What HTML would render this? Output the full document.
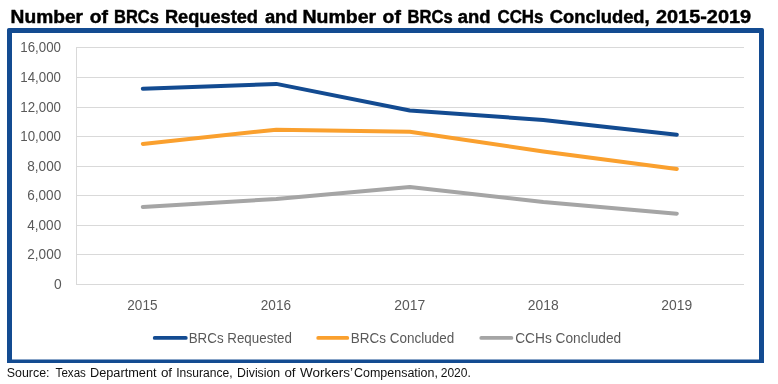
<!DOCTYPE html>
<html><head><meta charset="utf-8"><style>
html,body{margin:0;padding:0;background:#fff;width:778px;height:384px;overflow:hidden}
svg{display:block;will-change:transform}
text{font-family:"Liberation Sans",sans-serif}
.ax{font-size:13.8px;fill:#595959}
.lg{font-size:14.4px;fill:#595959}
.tt{font-size:18px;font-weight:bold;fill:#000;stroke:#000;stroke-width:0.45px}
.src{font-size:12px;fill:#111}
</style></head><body>
<svg width="778" height="384" viewBox="0 0 778 384">
<rect x="76" y="47" width="668" height="1" fill="#D9D9D9"/>
<rect x="76" y="77" width="668" height="1" fill="#D9D9D9"/>
<rect x="76" y="107" width="668" height="1" fill="#D9D9D9"/>
<rect x="76" y="136" width="668" height="1" fill="#D9D9D9"/>
<rect x="76" y="166" width="668" height="1" fill="#D9D9D9"/>
<rect x="76" y="195" width="668" height="1" fill="#D9D9D9"/>
<rect x="76" y="225" width="668" height="1" fill="#D9D9D9"/>
<rect x="76" y="254" width="668" height="1" fill="#D9D9D9"/>
<rect x="76" y="284" width="668" height="1" fill="#D9D9D9"/>
<rect x="76" y="47" width="1" height="238" fill="#D9D9D9"/>
<polyline points="142.8,206.9 276.3,199.0 409.8,187.0 543.3,202.1 676.8,213.7" fill="none" stroke="#A5A5A5" stroke-width="4" stroke-linecap="round" stroke-linejoin="round"/>
<polyline points="142.8,143.9 276.3,129.7 409.8,131.8 543.3,151.4 676.8,169.0" fill="none" stroke="#FAA02E" stroke-width="4" stroke-linecap="round" stroke-linejoin="round"/>
<polyline points="142.8,88.8 276.3,83.9 409.8,110.5 543.3,119.9 676.8,134.7" fill="none" stroke="#134B91" stroke-width="4" stroke-linecap="round" stroke-linejoin="round"/>
<line x1="154.7" y1="337.9" x2="185.8" y2="337.9" stroke="#134B91" stroke-width="3.8" stroke-linecap="round"/>
<line x1="318.2" y1="337.9" x2="347.3" y2="337.9" stroke="#FAA02E" stroke-width="3.8" stroke-linecap="round"/>
<line x1="481.3" y1="337.9" x2="511.4" y2="337.9" stroke="#A5A5A5" stroke-width="3.8" stroke-linecap="round"/>
<path d="M7,29.8 Q7,28 8.8,28 L762.2,28 Q764,28 764,29.8 L764,363 L7,363 Z M12,33 L12,359.5 L759,359.5 L759,33 Z" fill="#134B91" fill-rule="evenodd"/>
<text x="10.60" y="22.80" class="tt" textLength="72.44" lengthAdjust="spacingAndGlyphs">Number</text>
<text x="89.80" y="22.80" class="tt" textLength="18.25" lengthAdjust="spacingAndGlyphs">of</text>
<text x="114.00" y="22.80" class="tt" textLength="44.87" lengthAdjust="spacingAndGlyphs">BRCs</text>
<text x="164.90" y="22.80" class="tt" textLength="93.08" lengthAdjust="spacingAndGlyphs">Requested</text>
<text x="264.90" y="22.80" class="tt" textLength="32.66" lengthAdjust="spacingAndGlyphs">and</text>
<text x="302.50" y="22.80" class="tt" textLength="73.65" lengthAdjust="spacingAndGlyphs">Number</text>
<text x="382.60" y="22.80" class="tt" textLength="18.30" lengthAdjust="spacingAndGlyphs">of</text>
<text x="407.50" y="22.80" class="tt" textLength="45.19" lengthAdjust="spacingAndGlyphs">BRCs</text>
<text x="457.70" y="22.80" class="tt" textLength="32.79" lengthAdjust="spacingAndGlyphs">and</text>
<text x="497.40" y="22.80" class="tt" textLength="46.16" lengthAdjust="spacingAndGlyphs">CCHs</text>
<text x="549.80" y="22.80" class="tt" textLength="99.86" lengthAdjust="spacingAndGlyphs">Concluded,</text>
<text x="656.00" y="22.80" class="tt" textLength="95.11" lengthAdjust="spacingAndGlyphs">2015-2019</text>
<text x="20.30" y="51.80" class="ax" textLength="40.62" lengthAdjust="spacingAndGlyphs">16,000</text>
<text x="20.30" y="81.80" class="ax" textLength="40.62" lengthAdjust="spacingAndGlyphs">14,000</text>
<text x="20.30" y="111.80" class="ax" textLength="40.62" lengthAdjust="spacingAndGlyphs">12,000</text>
<text x="20.30" y="140.80" class="ax" textLength="40.62" lengthAdjust="spacingAndGlyphs">10,000</text>
<text x="27.28" y="170.80" class="ax" textLength="33.96" lengthAdjust="spacingAndGlyphs">8,000</text>
<text x="27.28" y="199.80" class="ax" textLength="33.90" lengthAdjust="spacingAndGlyphs">6,000</text>
<text x="27.28" y="229.80" class="ax" textLength="33.93" lengthAdjust="spacingAndGlyphs">4,000</text>
<text x="27.28" y="258.80" class="ax" textLength="33.96" lengthAdjust="spacingAndGlyphs">2,000</text>
<text x="54.00" y="288.80" class="ax" textLength="7.68" lengthAdjust="spacingAndGlyphs">0</text>
<text x="127.30" y="309.90" class="ax" textLength="30.19" lengthAdjust="spacingAndGlyphs">2015</text>
<text x="260.80" y="309.90" class="ax" textLength="30.19" lengthAdjust="spacingAndGlyphs">2016</text>
<text x="394.30" y="309.90" class="ax" textLength="31.04" lengthAdjust="spacingAndGlyphs">2017</text>
<text x="527.80" y="309.90" class="ax" textLength="30.85" lengthAdjust="spacingAndGlyphs">2018</text>
<text x="661.30" y="309.90" class="ax" textLength="30.84" lengthAdjust="spacingAndGlyphs">2019</text>
<text x="188.70" y="342.80" class="lg" textLength="103.24" lengthAdjust="spacingAndGlyphs">BRCs Requested</text>
<text x="350.70" y="342.80" class="lg" textLength="103.46" lengthAdjust="spacingAndGlyphs">BRCs Concluded</text>
<text x="515.20" y="342.80" class="lg" textLength="105.96" lengthAdjust="spacingAndGlyphs">CCHs Concluded</text>
<text x="6.80" y="376.90" class="src" textLength="42.76" lengthAdjust="spacingAndGlyphs">Source:</text>
<text x="55.60" y="376.90" class="src" textLength="30.29" lengthAdjust="spacingAndGlyphs">Texas</text>
<text x="90.00" y="376.90" class="src" textLength="66.57" lengthAdjust="spacingAndGlyphs">Department</text>
<text x="160.90" y="376.90" class="src" textLength="11.21" lengthAdjust="spacingAndGlyphs">of</text>
<text x="176.20" y="376.90" class="src" textLength="56.49" lengthAdjust="spacingAndGlyphs">Insurance,</text>
<text x="237.10" y="376.90" class="src" textLength="43.11" lengthAdjust="spacingAndGlyphs">Division</text>
<text x="284.40" y="376.90" class="src" textLength="11.14" lengthAdjust="spacingAndGlyphs">of</text>
<text x="300.10" y="376.90" class="src" textLength="52.97" lengthAdjust="spacingAndGlyphs">Workers’</text>
<text x="354.00" y="376.90" class="src" textLength="83.96" lengthAdjust="spacingAndGlyphs">Compensation,</text>
<text x="440.70" y="376.90" class="src" textLength="30.11" lengthAdjust="spacingAndGlyphs">2020.</text>
</svg>
</body></html>
